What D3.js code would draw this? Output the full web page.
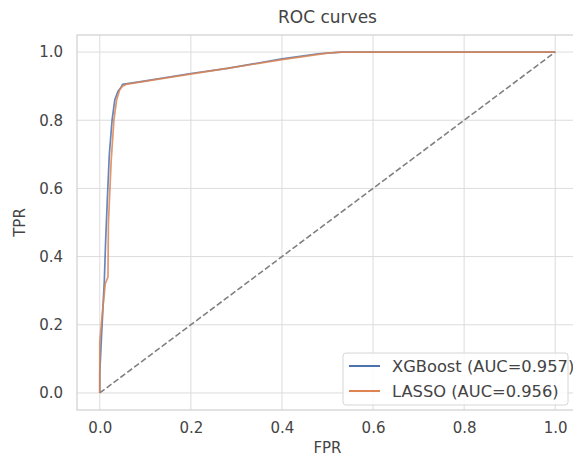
<!DOCTYPE html>
<html>
<head>
<meta charset="utf-8">
<script src="https://cdn.jsdelivr.net/npm/d3@7"></script>
<style>
  body { margin: 0; background: #fff; }
  text { font-family: "DejaVu Sans", sans-serif; fill: #444; }
</style>
</head>
<body>
<div id="chart"></div>
<script>
// roc points, [fpr, tpr]
var xgbFpr = [0, 0, 0.004, 0.01, 0.013, 0.017, 0.021, 0.027, 0.033, 0.04, 0.046, 0.05, 0.09, 0.2, 0.28, 0.4, 0.48, 0.53, 1.0];
var xgbTpr = [0, 0.06, 0.17, 0.33, 0.45, 0.58, 0.7, 0.8, 0.86, 0.885, 0.895, 0.905, 0.913, 0.937, 0.952, 0.98, 0.995, 1.0, 1.0];

var lassoFpr = [0, 0, 0.006, 0.012, 0.018, 0.019, 0.025, 0.031, 0.037, 0.044, 0.05, 0.06, 0.15, 0.28, 0.4, 0.5, 0.53, 1.0];
var lassoTpr = [0, 0.15, 0.24, 0.32, 0.34, 0.5, 0.68, 0.8, 0.86, 0.89, 0.9, 0.906, 0.925, 0.952, 0.978, 0.997, 1.0, 1.0];

var seriesNames = ["XGBoost (AUC=0.957)", "LASSO (AUC=0.956)"];
var seriesColors = ["#4c72b0", "#dd8452"];
var tickValues = [0.0, 0.2, 0.4, 0.6, 0.8, 1.0];

var W = 573, H = 462;
var margin = { top: 35, right: -5, bottom: 52, left: 77 };

var svg = d3.select("#chart").append("svg")
  .attr("width", W)
  .attr("height", H);

// matplotlib style 5% padding on both axes
var x = d3.scaleLinear().domain([-0.05, 1.05]).range([margin.left, W - margin.right]);
var y = d3.scaleLinear().domain([-0.05, 1.05]).range([H - margin.bottom, margin.top]);

// grid lines
svg.append("g")
  .selectAll("line.vx")
  .data(tickValues)
  .enter().append("line")
  .attr("x1", function(d){ return x(d) })
  .attr("x2", function(d){ return x(d) })
  .attr("y1", y.range()[0])
  .attr("y2", y.range()[1])
  .style("stroke", "#dcdcdc")
  .style("stroke-width", 1);

svg.append("g")
  .selectAll("line.hy")
  .data(tickValues)
  .enter().append("line")
  .attr("x1", x.range()[0])
  .attr("x2", x.range()[1])
  .attr("y1", function(d){ return y(d) })
  .attr("y2", function(d){ return y(d) })
  .style("stroke", "#dcdcdc")
  .style("stroke-width", 1);

// frame of the axes
svg.append("rect")
  .attr("x", x.range()[0])
  .attr("y", y.range()[1])
  .attr("width", x.range()[1] - x.range()[0])
  .attr("height", y.range()[0] - y.range()[1])
  .style("fill", "none")
  .style("stroke", "#cfcfcf")
  .style("stroke-width", 1.2);

// axes, only for the labels
var xAxis = d3.axisBottom(x).tickValues(tickValues).tickFormat(d3.format(".1f")).tickSize(0).tickPadding(12);
var yAxis = d3.axisLeft(y).tickValues(tickValues).tickFormat(d3.format(".1f")).tickSize(0).tickPadding(14);

var gx = svg.append("g")
  .attr("transform", "translate(0," + y.range()[0] + ")")
  .call(xAxis);
var gy = svg.append("g")
  .attr("transform", "translate(" + x.range()[0] + ",0)")
  .call(yAxis);
[gx, gy].forEach(function(g){
  g.select(".domain").remove();
  g.selectAll("text")
    .style("font-family", "DejaVu Sans")
    .style("font-size", "15px")
    .style("fill", "#444");
});

// diagonal
svg.append("line")
  .attr("x1", x(0)).attr("y1", y(0))
  .attr("x2", x(1)).attr("y2", y(1))
  .style("stroke", "#808080")
  .style("stroke-width", 1.6)
  .style("stroke-dasharray", "6,2.6");

// the two roc curves
var line = d3.line()
  .x(function(d){ return x(d[0]) })
  .y(function(d){ return y(d[1]) });

var curves = [d3.zip(xgbFpr, xgbTpr), d3.zip(lassoFpr, lassoTpr)];
curves.forEach(function(pts, i){
  svg.append("path")
    .datum(pts)
    .attr("d", line)
    .style("fill", "none")
    .style("stroke", seriesColors[i])
    .style("stroke-width", 1.7)
    .style("stroke-linejoin", "round")
    .style("opacity", 0.85);
});

// title and axis labels
svg.append("text")
  .attr("x", (x.range()[0] + x.range()[1]) / 2)
  .attr("y", 23)
  .style("text-anchor", "middle")
  .style("font-size", "17px")
  .text("ROC curves");

svg.append("text")
  .attr("x", (x.range()[0] + x.range()[1]) / 2)
  .attr("y", 453)
  .style("text-anchor", "middle")
  .style("font-size", "15px")
  .text("FPR");

svg.append("text")
  .attr("transform", "translate(25," + y(0.5) + ") rotate(-90)")
  .style("text-anchor", "middle")
  .style("font-size", "15px")
  .text("TPR");

// legend
var legend = svg.append("g").attr("transform", "translate(343,353)");
legend.append("rect")
  .attr("width", 225)
  .attr("height", 52)
  .attr("rx", 3)
  .style("fill", "#fff")
  .style("fill-opacity", 0.85)
  .style("stroke", "#d6d6d6");

seriesNames.forEach(function(name, i){
  legend.append("line")
    .attr("x1", 6).attr("x2", 37)
    .attr("y1", 13 + 25 * i).attr("y2", 13 + 25 * i)
    .style("stroke", seriesColors[i])
    .style("stroke-width", 2);
  legend.append("text")
    .attr("x", 49)
    .attr("y", 13 + 25 * i)
    .attr("dy", "0.35em")
    .style("font-size", "16.3px")
    .text(name);
});
</script>
</body>
</html>
